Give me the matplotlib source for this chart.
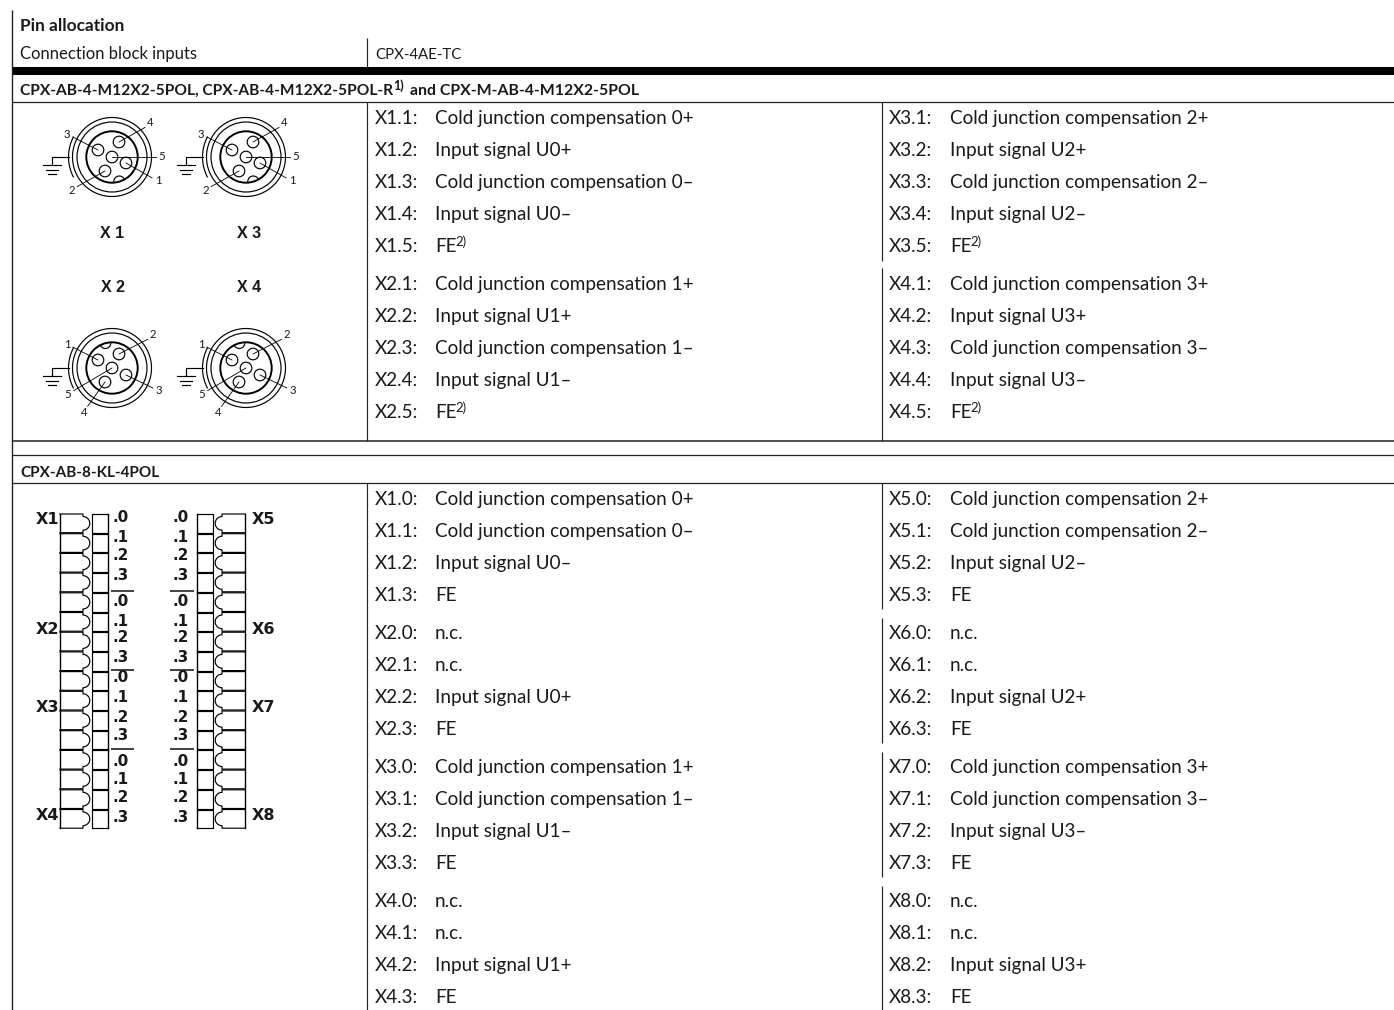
import numpy as np
import matplotlib
matplotlib.use('Agg')
import matplotlib.pyplot as plt
from matplotlib.patches import Circle, Arc

W, H = 1394, 1010
INK = '#1a1a1a'
BODY = 'Lato'

# ---- table text ------------------------------------------------------------
title = 'Pin allocation'
col_head_left = 'Connection block inputs'
col_head_right = 'CPX-4AE-TC'
section_a_1 = 'CPX-AB-4-M12X2-5POL, CPX-AB-4-M12X2-5POL-R'
section_a_sup = '1)'
section_a_2 = 'and CPX-M-AB-4-M12X2-5POL'
section_b = 'CPX-AB-8-KL-4POL'

m12_left_pins = ['X1.1:', 'X1.2:', 'X1.3:', 'X1.4:', 'X1.5:', 'X2.1:', 'X2.2:', 'X2.3:', 'X2.4:', 'X2.5:']
m12_right_pins = ['X3.1:', 'X3.2:', 'X3.3:', 'X3.4:', 'X3.5:', 'X4.1:', 'X4.2:', 'X4.3:', 'X4.4:', 'X4.5:']
m12_left_text = ['Cold junction compensation 0+', 'Input signal U0+', 'Cold junction compensation 0–', 'Input signal U0–', 'FE',
                 'Cold junction compensation 1+', 'Input signal U1+', 'Cold junction compensation 1–', 'Input signal U1–', 'FE']
m12_right_text = ['Cold junction compensation 2+', 'Input signal U2+', 'Cold junction compensation 2–', 'Input signal U2–', 'FE',
                  'Cold junction compensation 3+', 'Input signal U3+', 'Cold junction compensation 3–', 'Input signal U3–', 'FE']
m12_rows = [117, 149, 181, 213, 245, 283, 315, 347, 379, 411]

kl_left_pins = ['X1.0:', 'X1.1:', 'X1.2:', 'X1.3:', 'X2.0:', 'X2.1:', 'X2.2:', 'X2.3:',
                'X3.0:', 'X3.1:', 'X3.2:', 'X3.3:', 'X4.0:', 'X4.1:', 'X4.2:', 'X4.3:']
kl_right_pins = ['X5.0:', 'X5.1:', 'X5.2:', 'X5.3:', 'X6.0:', 'X6.1:', 'X6.2:', 'X6.3:',
                 'X7.0:', 'X7.1:', 'X7.2:', 'X7.3:', 'X8.0:', 'X8.1:', 'X8.2:', 'X8.3:']
kl_left_text = ['Cold junction compensation 0+', 'Cold junction compensation 0–', 'Input signal U0–', 'FE',
                'n.c.', 'n.c.', 'Input signal U0+', 'FE',
                'Cold junction compensation 1+', 'Cold junction compensation 1–', 'Input signal U1–', 'FE',
                'n.c.', 'n.c.', 'Input signal U1+', 'FE']
kl_right_text = ['Cold junction compensation 2+', 'Cold junction compensation 2–', 'Input signal U2–', 'FE',
                 'n.c.', 'n.c.', 'Input signal U2+', 'FE',
                 'Cold junction compensation 3+', 'Cold junction compensation 3–', 'Input signal U3–', 'FE',
                 'n.c.', 'n.c.', 'Input signal U3+', 'FE']
kl_rows = [498, 530, 562, 594, 632, 664, 696, 728, 766, 798, 830, 862, 900, 932, 964, 996]

# ---- rules -----------------------------------------------------------------
h_rules = [102, 441, 455, 483]
col2_segments = [(38, 67), (102, 441), (483, 1010)]
col3_segments = [(102, 261), (268, 441), (483, 609), (618, 743), (752, 877), (886, 1010)]

# ---- M12 connector drawings ------------------------------------------------
conn_centers_top = [(112, 157), (246, 157)]
conn_centers_bottom = [(112, 368), (246, 368)]
conn_names_top = ['X 1', 'X 3']
conn_names_bottom = ['X 2', 'X 4']
pin_ids_top = ['3', '4', '5', '1', '2']
pin_pos_top = [(-14, -7), (7, -15), (0, 0), (14, 6), (-7, 14)]
pin_lbl_top = [(-45, -23), (38, -34), (50, 0), (46, 24), (-40, 34)]
notch_top = (7.3, 24.5)
pin_ids_bottom = ['1', '2', '3', '4', '5']
pin_pos_bottom = [(-14, -8), (7, -14), (14, 7), (-7, 14), (0, 0)]
pin_lbl_bottom = [(-45, -24), (41, -33), (47, 23), (-28, 44), (-44, 26)]
notch_bottom = (-6.7, -25)

# ---- terminal block drawing ------------------------------------------------
kl_block_top = 514
kl_unit_pitch = 19.7
kl_units = 16
kl_lbl_rows = [518, 538, 555, 576, 602, 621, 638, 658, 678, 698, 717, 736, 761, 779, 798, 818]
kl_lbl_text = ['.0', '.1', '.2', '.3'] * 4
kl_sep_rows = [591, 670, 749]
kl_names_left = [('X1', 519), ('X2', 630), ('X3', 708), ('X4', 815)]
kl_names_right = [('X5', 519), ('X6', 629), ('X7', 707), ('X8', 815)]

fig = plt.figure(figsize=(W / 100, H / 100), dpi=100)
ax = fig.add_axes([0, 0, 1, 1])
ax.set_xlim(0, W)
ax.set_ylim(H, 0)
ax.axis('off')
renderer = fig.canvas.get_renderer()


def fit_text(x, y, s, width, weight='normal'):
    t = ax.text(x, y, s, family=BODY, fontsize=13, weight=weight, color=INK, va='baseline', ha='left')
    t.set_fontsize(13 * width / t.get_window_extent(renderer).width)
    return t


def rule(x0, x1, y0, y1, lw=0.85, color='#222222'):
    ax.plot([x0, x1], [y0, y1], color=color, lw=lw, solid_capstyle='butt')


# rules
rule(12, 12, 10, 1010, lw=1.0)
for y in h_rules:
    rule(12, W, y, y, lw=1.1 if y == 441 else 0.9)
ax.fill_between([12, W], 67, 75, color='black', lw=0)
for a, b in col2_segments:
    rule(367, 367, a, b)
for a, b in col3_segments:
    rule(882, 882, a, b)

# header text
fit_text(20, 31, title, 104, 'bold')
fit_text(20, 59, col_head_left, 176)
fit_text(375, 59, col_head_right, 86)
fit_text(20, 95, section_a_1, 371, 'bold')
ax.text(393, 90, section_a_sup, family=BODY, fontsize=9, weight='bold', color=INK)
fit_text(410, 95, section_a_2, 228, 'bold')
fit_text(20, 477, section_b, 138, 'bold')


# pin tables
def pin_table(xp, xt, pins, texts, rows, sup=False):
    for p, s, r in zip(pins, texts, rows):
        ax.text(xp, r + 7, p, family=BODY, fontsize=13.6, color=INK, va='baseline')
        ax.text(xt, r + 7, s, family=BODY, fontsize=13.6, color=INK, va='baseline')
        if sup and s == 'FE':
            ax.text(xt + 20.5, r + 1.5, '2)', family=BODY, fontsize=9.5, color=INK, va='baseline')


pin_table(375, 435, m12_left_pins, m12_left_text, m12_rows, True)
pin_table(889, 950, m12_right_pins, m12_right_text, m12_rows, True)
pin_table(375, 435, kl_left_pins, kl_left_text, kl_rows)
pin_table(889, 950, kl_right_pins, kl_right_text, kl_rows)


# M12 connectors
def connector(cx, cy, ids, pins, labels, notch):
    lw = 0.85
    for r in (39.5, 35):
        ax.add_patch(Circle((cx, cy), r, fill=False, ec='black', lw=lw))
    ax.add_patch(Circle((cx, cy), 25.7, fill=False, ec='black', lw=1.4))
    ax.add_patch(Arc((cx, cy), 87, 87, theta1=152, theta2=208, ec='black', lw=lw))
    n = Circle((cx + notch[0], cy + notch[1]), 5.5, fill=False, ec='black', lw=lw)
    ax.add_patch(n)
    n.set_clip_path(Circle((cx, cy), 25.7, transform=ax.transData))
    for s, (px, py), (lx, ly) in zip(ids, pins, labels):
        ax.plot([cx + px, cx + lx * 0.87], [cy + py, cy + ly * 0.87], color='black', lw=0.6)
        ax.add_patch(Circle((cx + px, cy + py), 5.8, fc='none', ec='black', lw=lw, zorder=3))
        ax.text(cx + lx, cy + ly, s, family=BODY, fontsize=8.2, color=INK, ha='center', va='center', zorder=4)
    # earth symbol
    gx = cx - 60
    ax.plot([cx - 43.5, gx, gx], [cy, cy, cy + 8], color='black', lw=lw)
    for off, half in ((8, 9), (12.5, 6), (17, 4)):
        ax.plot([gx - half, gx + half], [cy + off, cy + off], color='black', lw=lw)


for c, nm in zip(conn_centers_top, conn_names_top):
    connector(c[0], c[1], pin_ids_top, pin_pos_top, pin_lbl_top, notch_top)
    ax.text(c[0] + (3 if nm == 'X 3' else 0), 233, nm, family='Liberation Sans', weight='bold', fontsize=11.5,
            color=INK, ha='center', va='center')
for c, nm in zip(conn_centers_bottom, conn_names_bottom):
    connector(c[0], c[1], pin_ids_bottom, pin_pos_bottom, pin_lbl_bottom, notch_bottom)
    ax.text(c[0] + (3 if nm == 'X 4' else 1), 287, nm, family='Liberation Sans', weight='bold', fontsize=11.5,
            color=INK, ha='center', va='center')


# terminal blocks
def block(mirror):
    fx = (lambda x: 305 - np.asarray(x)) if mirror else (lambda x: np.asarray(x))
    lw = 0.85
    ang = np.linspace(-np.pi / 2, np.pi / 2, 24)
    for i in range(kl_units):
        t = kl_block_top + i * kl_unit_pitch
        b = t + 18.7
        m = (t + b) / 2
        xs = np.concatenate([[60, 83], 83 + 6.8 * np.cos(ang), [83, 60]])
        ys = np.concatenate([[t, t], m + 6.8 * np.sin(ang), [b, b]])
        ax.plot(fx(xs), ys, color='black', lw=lw)
        ax.plot(fx([108, 92, 92, 108]), [t, t, b, b], color='black', lw=lw)
    end = kl_block_top + kl_units * kl_unit_pitch - 1
    ax.plot(fx([60, 60]), [kl_block_top, end], color='black', lw=1.0)
    ax.plot(fx([108, 108]), [kl_block_top, end], color='black', lw=1.0)


block(False)
block(True)
for r, s in zip(kl_lbl_rows, kl_lbl_text):
    ax.text(113, r, s, family='DejaVu Sans', weight='bold', fontsize=11, color=INK, ha='left', va='center')
    ax.text(173, r, s, family='DejaVu Sans', weight='bold', fontsize=11, color=INK, ha='left', va='center')
for r in kl_sep_rows:
    rule(111, 134, r, r, lw=1.3, color='#333333')
    rule(170, 194, r, r, lw=1.3, color='#333333')
for s, r in kl_names_left:
    ax.text(47, r, s, family='DejaVu Sans', weight='bold', fontsize=11.5, color=INK, ha='center', va='center')
for s, r in kl_names_right:
    ax.text(263, r, s, family='DejaVu Sans', weight='bold', fontsize=11.5, color=INK, ha='center', va='center')

fig.savefig('out.png', dpi=100, facecolor='white')
